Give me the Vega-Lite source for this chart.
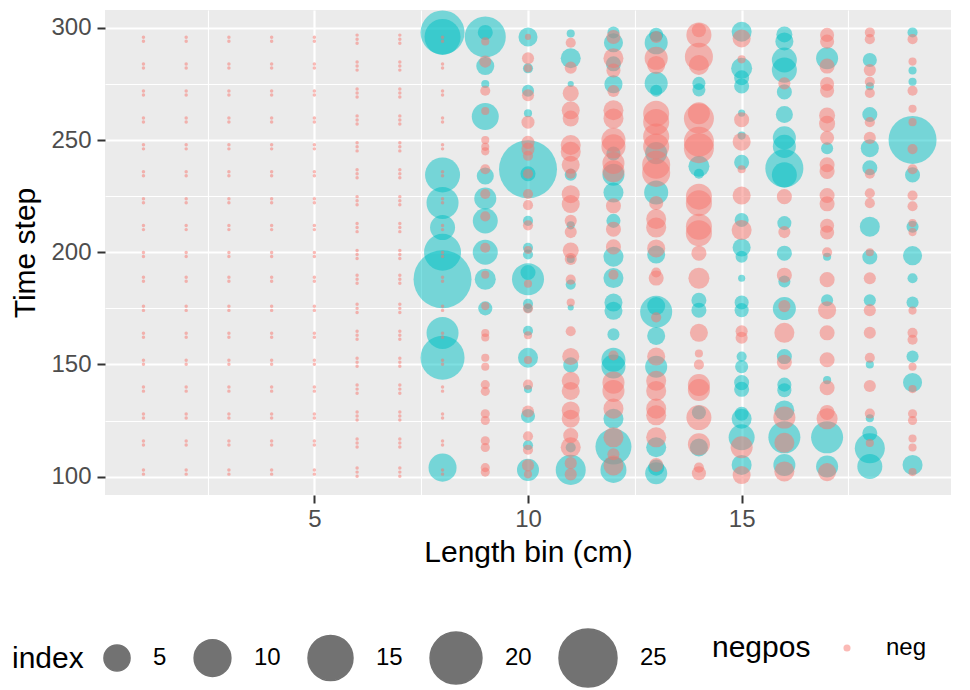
{
"$schema": "https://vega.github.io/schema/vega-lite/v6.json",
"width": 846, "height": 485,
"autosize": {"type": "none"},
"padding": {"left": 105, "top": 10, "right": 19, "bottom": 195},
"background": "white",
"config": {"view": {"fill": "#EBEBEB", "stroke": null}, "font": "Liberation Sans"},
"data": {"values": [
{"x":1,"t":101.1,"i":0,"g":"neg"},{"x":1,"t":102.9,"i":0,"g":"neg"},{"x":1,"t":114.1,"i":0,"g":"neg"},{"x":1,"t":115.9,"i":0,"g":"neg"},{"x":1,"t":126.1,"i":0,"g":"neg"},{"x":1,"t":127.9,"i":0,"g":"neg"},{"x":1,"t":138.1,"i":0,"g":"neg"},{"x":1,"t":139.9,"i":0,"g":"neg"},{"x":1,"t":150.1,"i":0,"g":"neg"},{"x":1,"t":151.9,"i":0,"g":"neg"},{"x":1,"t":162.1,"i":0,"g":"neg"},{"x":1,"t":163.9,"i":0,"g":"neg"},{"x":1,"t":174.1,"i":0,"g":"neg"},{"x":1,"t":175.9,"i":0,"g":"neg"},{"x":1,"t":187.1,"i":0,"g":"neg"},{"x":1,"t":188.9,"i":0,"g":"neg"},{"x":1,"t":198.1,"i":0,"g":"neg"},{"x":1,"t":199.9,"i":0,"g":"neg"},{"x":1,"t":210.1,"i":0,"g":"neg"},{"x":1,"t":211.9,"i":0,"g":"neg"},{"x":1,"t":222.1,"i":0,"g":"neg"},{"x":1,"t":223.9,"i":0,"g":"neg"},{"x":1,"t":234.1,"i":0,"g":"neg"},{"x":1,"t":235.9,"i":0,"g":"neg"},{"x":1,"t":246.1,"i":0,"g":"neg"},{"x":1,"t":247.9,"i":0,"g":"neg"},{"x":1,"t":258.1,"i":0,"g":"neg"},{"x":1,"t":259.9,"i":0,"g":"neg"},{"x":1,"t":270.1,"i":0,"g":"neg"},{"x":1,"t":271.9,"i":0,"g":"neg"},{"x":1,"t":282.1,"i":0,"g":"neg"},{"x":1,"t":283.9,"i":0,"g":"neg"},{"x":1,"t":294.1,"i":0,"g":"neg"},{"x":1,"t":295.9,"i":0,"g":"neg"},
{"x":2,"t":101.1,"i":0,"g":"neg"},{"x":2,"t":102.9,"i":0,"g":"neg"},{"x":2,"t":114.1,"i":0,"g":"neg"},{"x":2,"t":115.9,"i":0,"g":"neg"},{"x":2,"t":126.1,"i":0,"g":"neg"},{"x":2,"t":127.9,"i":0,"g":"neg"},{"x":2,"t":138.1,"i":0,"g":"neg"},{"x":2,"t":139.9,"i":0,"g":"neg"},{"x":2,"t":150.1,"i":0,"g":"neg"},{"x":2,"t":151.9,"i":0,"g":"neg"},{"x":2,"t":162.1,"i":0,"g":"neg"},{"x":2,"t":163.9,"i":0,"g":"neg"},{"x":2,"t":174.1,"i":0,"g":"neg"},{"x":2,"t":175.9,"i":0,"g":"neg"},{"x":2,"t":187.1,"i":0,"g":"neg"},{"x":2,"t":188.9,"i":0,"g":"neg"},{"x":2,"t":198.1,"i":0,"g":"neg"},{"x":2,"t":199.9,"i":0,"g":"neg"},{"x":2,"t":210.1,"i":0,"g":"neg"},{"x":2,"t":211.9,"i":0,"g":"neg"},{"x":2,"t":222.1,"i":0,"g":"neg"},{"x":2,"t":223.9,"i":0,"g":"neg"},{"x":2,"t":234.1,"i":0,"g":"neg"},{"x":2,"t":235.9,"i":0,"g":"neg"},{"x":2,"t":246.1,"i":0,"g":"neg"},{"x":2,"t":247.9,"i":0,"g":"neg"},{"x":2,"t":258.1,"i":0,"g":"neg"},{"x":2,"t":259.9,"i":0,"g":"neg"},{"x":2,"t":270.1,"i":0,"g":"neg"},{"x":2,"t":271.9,"i":0,"g":"neg"},{"x":2,"t":282.1,"i":0,"g":"neg"},{"x":2,"t":283.9,"i":0,"g":"neg"},{"x":2,"t":294.1,"i":0,"g":"neg"},{"x":2,"t":295.9,"i":0,"g":"neg"},
{"x":3,"t":101.1,"i":0,"g":"neg"},{"x":3,"t":102.9,"i":0,"g":"neg"},{"x":3,"t":114.1,"i":0,"g":"neg"},{"x":3,"t":115.9,"i":0,"g":"neg"},{"x":3,"t":126.1,"i":0,"g":"neg"},{"x":3,"t":127.9,"i":0,"g":"neg"},{"x":3,"t":138.1,"i":0,"g":"neg"},{"x":3,"t":139.9,"i":0,"g":"neg"},{"x":3,"t":150.1,"i":0,"g":"neg"},{"x":3,"t":151.9,"i":0,"g":"neg"},{"x":3,"t":162.1,"i":0,"g":"neg"},{"x":3,"t":163.9,"i":0,"g":"neg"},{"x":3,"t":174.1,"i":0,"g":"neg"},{"x":3,"t":175.9,"i":0,"g":"neg"},{"x":3,"t":187.1,"i":0,"g":"neg"},{"x":3,"t":188.9,"i":0,"g":"neg"},{"x":3,"t":198.1,"i":0,"g":"neg"},{"x":3,"t":199.9,"i":0,"g":"neg"},{"x":3,"t":210.1,"i":0,"g":"neg"},{"x":3,"t":211.9,"i":0,"g":"neg"},{"x":3,"t":222.1,"i":0,"g":"neg"},{"x":3,"t":223.9,"i":0,"g":"neg"},{"x":3,"t":234.1,"i":0,"g":"neg"},{"x":3,"t":235.9,"i":0,"g":"neg"},{"x":3,"t":246.1,"i":0,"g":"neg"},{"x":3,"t":247.9,"i":0,"g":"neg"},{"x":3,"t":258.1,"i":0,"g":"neg"},{"x":3,"t":259.9,"i":0,"g":"neg"},{"x":3,"t":270.1,"i":0,"g":"neg"},{"x":3,"t":271.9,"i":0,"g":"neg"},{"x":3,"t":282.1,"i":0,"g":"neg"},{"x":3,"t":283.9,"i":0,"g":"neg"},{"x":3,"t":294.1,"i":0,"g":"neg"},{"x":3,"t":295.9,"i":0,"g":"neg"},
{"x":4,"t":101.1,"i":0,"g":"neg"},{"x":4,"t":102.9,"i":0,"g":"neg"},{"x":4,"t":114.1,"i":0,"g":"neg"},{"x":4,"t":115.9,"i":0,"g":"neg"},{"x":4,"t":126.1,"i":0,"g":"neg"},{"x":4,"t":127.9,"i":0,"g":"neg"},{"x":4,"t":138.1,"i":0,"g":"neg"},{"x":4,"t":139.9,"i":0,"g":"neg"},{"x":4,"t":150.1,"i":0,"g":"neg"},{"x":4,"t":151.9,"i":0,"g":"neg"},{"x":4,"t":162.1,"i":0,"g":"neg"},{"x":4,"t":163.9,"i":0,"g":"neg"},{"x":4,"t":174.1,"i":0,"g":"neg"},{"x":4,"t":175.9,"i":0,"g":"neg"},{"x":4,"t":187.1,"i":0,"g":"neg"},{"x":4,"t":188.9,"i":0,"g":"neg"},{"x":4,"t":198.1,"i":0,"g":"neg"},{"x":4,"t":199.9,"i":0,"g":"neg"},{"x":4,"t":210.1,"i":0,"g":"neg"},{"x":4,"t":211.9,"i":0,"g":"neg"},{"x":4,"t":222.1,"i":0,"g":"neg"},{"x":4,"t":223.9,"i":0,"g":"neg"},{"x":4,"t":234.1,"i":0,"g":"neg"},{"x":4,"t":235.9,"i":0,"g":"neg"},{"x":4,"t":246.1,"i":0,"g":"neg"},{"x":4,"t":247.9,"i":0,"g":"neg"},{"x":4,"t":258.1,"i":0,"g":"neg"},{"x":4,"t":259.9,"i":0,"g":"neg"},{"x":4,"t":270.1,"i":0,"g":"neg"},{"x":4,"t":271.9,"i":0,"g":"neg"},{"x":4,"t":282.1,"i":0,"g":"neg"},{"x":4,"t":283.9,"i":0,"g":"neg"},{"x":4,"t":294.1,"i":0,"g":"neg"},{"x":4,"t":295.9,"i":0,"g":"neg"},
{"x":5,"t":101.1,"i":0,"g":"neg"},{"x":5,"t":102.9,"i":0,"g":"neg"},{"x":5,"t":114.1,"i":0,"g":"neg"},{"x":5,"t":115.9,"i":0,"g":"neg"},{"x":5,"t":126.1,"i":0,"g":"neg"},{"x":5,"t":127.9,"i":0,"g":"neg"},{"x":5,"t":138.1,"i":0,"g":"neg"},{"x":5,"t":139.9,"i":0,"g":"neg"},{"x":5,"t":150.1,"i":0,"g":"neg"},{"x":5,"t":151.9,"i":0,"g":"neg"},{"x":5,"t":162.1,"i":0,"g":"neg"},{"x":5,"t":163.9,"i":0,"g":"neg"},{"x":5,"t":174.1,"i":0,"g":"neg"},{"x":5,"t":175.9,"i":0,"g":"neg"},{"x":5,"t":187.1,"i":0,"g":"neg"},{"x":5,"t":188.9,"i":0,"g":"neg"},{"x":5,"t":198.1,"i":0,"g":"neg"},{"x":5,"t":199.9,"i":0,"g":"neg"},{"x":5,"t":210.1,"i":0,"g":"neg"},{"x":5,"t":211.9,"i":0,"g":"neg"},{"x":5,"t":222.1,"i":0,"g":"neg"},{"x":5,"t":223.9,"i":0,"g":"neg"},{"x":5,"t":234.1,"i":0,"g":"neg"},{"x":5,"t":235.9,"i":0,"g":"neg"},{"x":5,"t":246.1,"i":0,"g":"neg"},{"x":5,"t":247.9,"i":0,"g":"neg"},{"x":5,"t":258.1,"i":0,"g":"neg"},{"x":5,"t":259.9,"i":0,"g":"neg"},{"x":5,"t":270.1,"i":0,"g":"neg"},{"x":5,"t":271.9,"i":0,"g":"neg"},{"x":5,"t":282.1,"i":0,"g":"neg"},{"x":5,"t":283.9,"i":0,"g":"neg"},{"x":5,"t":294.1,"i":0,"g":"neg"},{"x":5,"t":295.9,"i":0,"g":"neg"},
{"x":6,"t":100.2,"i":0,"g":"neg"},{"x":6,"t":102,"i":0,"g":"neg"},{"x":6,"t":103.8,"i":0,"g":"neg"},{"x":6,"t":113.2,"i":0,"g":"neg"},{"x":6,"t":115,"i":0,"g":"neg"},{"x":6,"t":116.8,"i":0,"g":"neg"},{"x":6,"t":125.2,"i":0,"g":"neg"},{"x":6,"t":127,"i":0,"g":"neg"},{"x":6,"t":128.8,"i":0,"g":"neg"},{"x":6,"t":137.2,"i":0,"g":"neg"},{"x":6,"t":139,"i":0,"g":"neg"},{"x":6,"t":140.8,"i":0,"g":"neg"},{"x":6,"t":149.2,"i":0,"g":"neg"},{"x":6,"t":151,"i":0,"g":"neg"},{"x":6,"t":152.8,"i":0,"g":"neg"},{"x":6,"t":161.2,"i":0,"g":"neg"},{"x":6,"t":163,"i":0,"g":"neg"},{"x":6,"t":164.8,"i":0,"g":"neg"},{"x":6,"t":173.2,"i":0,"g":"neg"},{"x":6,"t":175,"i":0,"g":"neg"},{"x":6,"t":176.8,"i":0,"g":"neg"},{"x":6,"t":186.2,"i":0,"g":"neg"},{"x":6,"t":188,"i":0,"g":"neg"},{"x":6,"t":189.8,"i":0,"g":"neg"},{"x":6,"t":197.2,"i":0,"g":"neg"},{"x":6,"t":199,"i":0,"g":"neg"},{"x":6,"t":200.8,"i":0,"g":"neg"},{"x":6,"t":209.2,"i":0,"g":"neg"},{"x":6,"t":211,"i":0,"g":"neg"},{"x":6,"t":212.8,"i":0,"g":"neg"},{"x":6,"t":221.2,"i":0,"g":"neg"},{"x":6,"t":223,"i":0,"g":"neg"},{"x":6,"t":224.8,"i":0,"g":"neg"},{"x":6,"t":233.2,"i":0,"g":"neg"},{"x":6,"t":235,"i":0,"g":"neg"},{"x":6,"t":236.8,"i":0,"g":"neg"},{"x":6,"t":245.2,"i":0,"g":"neg"},{"x":6,"t":247,"i":0,"g":"neg"},{"x":6,"t":248.8,"i":0,"g":"neg"},{"x":6,"t":257.2,"i":0,"g":"neg"},{"x":6,"t":259,"i":0,"g":"neg"},{"x":6,"t":260.8,"i":0,"g":"neg"},{"x":6,"t":269.2,"i":0,"g":"neg"},{"x":6,"t":271,"i":0,"g":"neg"},{"x":6,"t":272.8,"i":0,"g":"neg"},{"x":6,"t":281.2,"i":0,"g":"neg"},{"x":6,"t":283,"i":0,"g":"neg"},{"x":6,"t":284.8,"i":0,"g":"neg"},{"x":6,"t":293.2,"i":0,"g":"neg"},{"x":6,"t":295,"i":0,"g":"neg"},{"x":6,"t":296.8,"i":0,"g":"neg"},
{"x":7,"t":100.2,"i":0,"g":"neg"},{"x":7,"t":102,"i":0,"g":"neg"},{"x":7,"t":103.8,"i":0,"g":"neg"},{"x":7,"t":113.2,"i":0,"g":"neg"},{"x":7,"t":115,"i":0,"g":"neg"},{"x":7,"t":116.8,"i":0,"g":"neg"},{"x":7,"t":125.2,"i":0,"g":"neg"},{"x":7,"t":127,"i":0,"g":"neg"},{"x":7,"t":128.8,"i":0,"g":"neg"},{"x":7,"t":137.2,"i":0,"g":"neg"},{"x":7,"t":139,"i":0,"g":"neg"},{"x":7,"t":140.8,"i":0,"g":"neg"},{"x":7,"t":149.2,"i":0,"g":"neg"},{"x":7,"t":151,"i":0,"g":"neg"},{"x":7,"t":152.8,"i":0,"g":"neg"},{"x":7,"t":161.2,"i":0,"g":"neg"},{"x":7,"t":163,"i":0,"g":"neg"},{"x":7,"t":164.8,"i":0,"g":"neg"},{"x":7,"t":173.2,"i":0,"g":"neg"},{"x":7,"t":175,"i":0,"g":"neg"},{"x":7,"t":176.8,"i":0,"g":"neg"},{"x":7,"t":186.2,"i":0,"g":"neg"},{"x":7,"t":188,"i":0,"g":"neg"},{"x":7,"t":189.8,"i":0,"g":"neg"},{"x":7,"t":197.2,"i":0,"g":"neg"},{"x":7,"t":199,"i":0,"g":"neg"},{"x":7,"t":200.8,"i":0,"g":"neg"},{"x":7,"t":209.2,"i":0,"g":"neg"},{"x":7,"t":211,"i":0,"g":"neg"},{"x":7,"t":212.8,"i":0,"g":"neg"},{"x":7,"t":221.2,"i":0,"g":"neg"},{"x":7,"t":223,"i":0,"g":"neg"},{"x":7,"t":224.8,"i":0,"g":"neg"},{"x":7,"t":233.2,"i":0,"g":"neg"},{"x":7,"t":235,"i":0,"g":"neg"},{"x":7,"t":236.8,"i":0,"g":"neg"},{"x":7,"t":245.2,"i":0,"g":"neg"},{"x":7,"t":247,"i":0,"g":"neg"},{"x":7,"t":248.8,"i":0,"g":"neg"},{"x":7,"t":257.2,"i":0,"g":"neg"},{"x":7,"t":259,"i":0,"g":"neg"},{"x":7,"t":260.8,"i":0,"g":"neg"},{"x":7,"t":269.2,"i":0,"g":"neg"},{"x":7,"t":271,"i":0,"g":"neg"},{"x":7,"t":272.8,"i":0,"g":"neg"},{"x":7,"t":281.2,"i":0,"g":"neg"},{"x":7,"t":283,"i":0,"g":"neg"},{"x":7,"t":284.8,"i":0,"g":"neg"},{"x":7,"t":293.2,"i":0,"g":"neg"},{"x":7,"t":295,"i":0,"g":"neg"},{"x":7,"t":296.8,"i":0,"g":"neg"},
{"x":8,"t":298,"i":14.35,"g":"pos"},{"x":8,"t":296,"i":9.58,"g":"pos"},{"x":8,"t":234.5,"i":9.05,"g":"pos"},{"x":8,"t":222,"i":7.56,"g":"pos"},{"x":8,"t":211,"i":4.58,"g":"pos"},{"x":8,"t":200,"i":10.1,"g":"pos"},{"x":8,"t":188,"i":25,"g":"pos"},{"x":8,"t":164,"i":7.56,"g":"pos"},{"x":8,"t":153,"i":14.35,"g":"pos"},{"x":8,"t":104,"i":5.77,"g":"pos"},
{"x":8,"t":101.1,"i":0,"g":"neg"},{"x":8,"t":102.9,"i":0,"g":"neg"},{"x":8,"t":114.1,"i":0,"g":"neg"},{"x":8,"t":115.9,"i":0,"g":"neg"},{"x":8,"t":126.1,"i":0,"g":"neg"},{"x":8,"t":127.9,"i":0,"g":"neg"},{"x":8,"t":138.1,"i":0,"g":"neg"},{"x":8,"t":139.9,"i":0,"g":"neg"},{"x":8,"t":150.1,"i":0,"g":"neg"},{"x":8,"t":151.9,"i":0,"g":"neg"},{"x":8,"t":162.1,"i":0,"g":"neg"},{"x":8,"t":163.9,"i":0,"g":"neg"},{"x":8,"t":174.1,"i":0,"g":"neg"},{"x":8,"t":175.9,"i":0,"g":"neg"},{"x":8,"t":187.1,"i":0,"g":"neg"},{"x":8,"t":188.9,"i":0,"g":"neg"},{"x":8,"t":198.1,"i":0,"g":"neg"},{"x":8,"t":199.9,"i":0,"g":"neg"},{"x":8,"t":210.1,"i":0,"g":"neg"},{"x":8,"t":211.9,"i":0,"g":"neg"},{"x":8,"t":222.1,"i":0,"g":"neg"},{"x":8,"t":223.9,"i":0,"g":"neg"},{"x":8,"t":234.1,"i":0,"g":"neg"},{"x":8,"t":235.9,"i":0,"g":"neg"},{"x":8,"t":246.1,"i":0,"g":"neg"},{"x":8,"t":247.9,"i":0,"g":"neg"},{"x":8,"t":258.1,"i":0,"g":"neg"},{"x":8,"t":259.9,"i":0,"g":"neg"},{"x":8,"t":270.1,"i":0,"g":"neg"},{"x":8,"t":271.9,"i":0,"g":"neg"},{"x":8,"t":282.1,"i":0,"g":"neg"},{"x":8,"t":283.9,"i":0,"g":"neg"},{"x":8,"t":294.1,"i":0,"g":"neg"},{"x":8,"t":295.9,"i":0,"g":"neg"},
{"x":9,"t":296,"i":12.45,"g":"pos"},{"x":9,"t":298,"i":1.6,"g":"pos"},{"x":9,"t":283,"i":2.34,"g":"pos"},{"x":9,"t":275,"i":0.4,"g":"pos"},{"x":9,"t":260.5,"i":5.36,"g":"pos"},{"x":9,"t":234,"i":2.08,"g":"pos"},{"x":9,"t":224,"i":3.53,"g":"pos"},{"x":9,"t":214,"i":4.58,"g":"pos"},{"x":9,"t":200,"i":4.58,"g":"pos"},{"x":9,"t":188,"i":3.21,"g":"pos"},{"x":9,"t":175,"i":1.39,"g":"pos"},
{"x":9,"t":294,"i":0.4,"g":"neg"},{"x":9,"t":285,"i":1.0,"g":"neg"},{"x":9,"t":272,"i":0.67,"g":"neg"},{"x":9,"t":263,"i":0.4,"g":"neg"},{"x":9,"t":250,"i":0.4,"g":"neg"},{"x":9,"t":247,"i":0.4,"g":"neg"},{"x":9,"t":245,"i":0.4,"g":"neg"},{"x":9,"t":237,"i":0.67,"g":"neg"},{"x":9,"t":226,"i":0.67,"g":"neg"},{"x":9,"t":216,"i":0.67,"g":"neg"},{"x":9,"t":202,"i":0.67,"g":"neg"},{"x":9,"t":190,"i":0.4,"g":"neg"},{"x":9,"t":176,"i":0.4,"g":"neg"},{"x":9,"t":164,"i":0.4,"g":"neg"},{"x":9,"t":162,"i":0.4,"g":"neg"},{"x":9,"t":153,"i":0.4,"g":"neg"},{"x":9,"t":149,"i":0.4,"g":"neg"},{"x":9,"t":141,"i":0.53,"g":"neg"},{"x":9,"t":138,"i":0.53,"g":"neg"},{"x":9,"t":128,"i":0.53,"g":"neg"},{"x":9,"t":125,"i":0.53,"g":"neg"},{"x":9,"t":116,"i":0.53,"g":"neg"},{"x":9,"t":113,"i":0.53,"g":"neg"},{"x":9,"t":104,"i":0.53,"g":"neg"},{"x":9,"t":102,"i":0.53,"g":"neg"},
{"x":10,"t":296,"i":2.62,"g":"pos"},{"x":10,"t":282,"i":0.67,"g":"pos"},{"x":10,"t":272,"i":1.0,"g":"pos"},{"x":10,"t":262,"i":0.4,"g":"pos"},{"x":10,"t":237,"i":25,"g":"pos"},{"x":10,"t":235,"i":1.6,"g":"pos"},{"x":10,"t":214,"i":0.67,"g":"pos"},{"x":10,"t":202,"i":0.67,"g":"pos"},{"x":10,"t":199,"i":0.67,"g":"pos"},{"x":10,"t":188,"i":7.56,"g":"pos"},{"x":10,"t":191,"i":1.6,"g":"pos"},{"x":10,"t":177,"i":0.67,"g":"pos"},{"x":10,"t":175,"i":0.53,"g":"pos"},{"x":10,"t":165,"i":0.67,"g":"pos"},{"x":10,"t":153,"i":2.9,"g":"pos"},{"x":10,"t":139,"i":0.4,"g":"pos"},{"x":10,"t":127,"i":1.39,"g":"pos"},{"x":10,"t":114,"i":0.67,"g":"pos"},{"x":10,"t":103,"i":3.53,"g":"pos"},
{"x":10,"t":296,"i":0.19,"g":"neg"},{"x":10,"t":286.5,"i":1.0,"g":"neg"},{"x":10,"t":282,"i":0.4,"g":"neg"},{"x":10,"t":270,"i":1.0,"g":"neg"},{"x":10,"t":258,"i":1.18,"g":"neg"},{"x":10,"t":249,"i":1.18,"g":"neg"},{"x":10,"t":246,"i":1.18,"g":"neg"},{"x":10,"t":243,"i":0.67,"g":"neg"},{"x":10,"t":235,"i":0.67,"g":"neg"},{"x":10,"t":226,"i":0.67,"g":"neg"},{"x":10,"t":221,"i":0.67,"g":"neg"},{"x":10,"t":212,"i":0.67,"g":"neg"},{"x":10,"t":201,"i":0.4,"g":"neg"},{"x":10,"t":186,"i":0.4,"g":"neg"},{"x":10,"t":175,"i":0.67,"g":"neg"},{"x":10,"t":163,"i":0.4,"g":"neg"},{"x":10,"t":152,"i":0.4,"g":"neg"},{"x":10,"t":141,"i":0.67,"g":"neg"},{"x":10,"t":129,"i":1.0,"g":"neg"},{"x":10,"t":118,"i":0.67,"g":"neg"},{"x":10,"t":112,"i":0.67,"g":"neg"},{"x":10,"t":105,"i":1.0,"g":"neg"},{"x":10,"t":101,"i":0.4,"g":"neg"},
{"x":11,"t":297.5,"i":0.4,"g":"pos"},{"x":11,"t":286.5,"i":2.9,"g":"pos"},{"x":11,"t":275,"i":0.19,"g":"pos"},{"x":11,"t":234.6,"i":1.0,"g":"pos"},{"x":11,"t":212,"i":0.4,"g":"pos"},{"x":11,"t":197,"i":0.4,"g":"pos"},{"x":11,"t":185.6,"i":0.67,"g":"pos"},{"x":11,"t":175.4,"i":0.19,"g":"pos"},{"x":11,"t":149.8,"i":1.6,"g":"pos"},{"x":11,"t":113,"i":0.67,"g":"pos"},{"x":11,"t":103,"i":6.63,"g":"pos"},
{"x":11,"t":293.4,"i":0.67,"g":"neg"},{"x":11,"t":282.3,"i":1.0,"g":"neg"},{"x":11,"t":270.9,"i":1.83,"g":"neg"},{"x":11,"t":263.3,"i":2.34,"g":"neg"},{"x":11,"t":259.6,"i":1.83,"g":"neg"},{"x":11,"t":247.8,"i":2.9,"g":"neg"},{"x":11,"t":244.8,"i":2.9,"g":"neg"},{"x":11,"t":239,"i":2.34,"g":"neg"},{"x":11,"t":235,"i":0.67,"g":"neg"},{"x":11,"t":225.9,"i":2.34,"g":"neg"},{"x":11,"t":221.5,"i":2.34,"g":"neg"},{"x":11,"t":214,"i":1.0,"g":"neg"},{"x":11,"t":209,"i":1.0,"g":"neg"},{"x":11,"t":200.8,"i":1.83,"g":"neg"},{"x":11,"t":197,"i":1.0,"g":"neg"},{"x":11,"t":187.8,"i":0.67,"g":"neg"},{"x":11,"t":177.6,"i":0.4,"g":"neg"},{"x":11,"t":164.8,"i":0.67,"g":"neg"},{"x":11,"t":153.5,"i":2.08,"g":"neg"},{"x":11,"t":142.7,"i":2.34,"g":"neg"},{"x":11,"t":138.2,"i":2.34,"g":"neg"},{"x":11,"t":129.5,"i":2.34,"g":"neg"},{"x":11,"t":125.8,"i":2.34,"g":"neg"},{"x":11,"t":118.3,"i":1.6,"g":"neg"},{"x":11,"t":113.1,"i":2.9,"g":"neg"},{"x":11,"t":106,"i":1.0,"g":"neg"},{"x":11,"t":101,"i":1.0,"g":"neg"},
{"x":12,"t":298,"i":1.0,"g":"pos"},{"x":12,"t":293.4,"i":2.62,"g":"pos"},{"x":12,"t":284,"i":1.6,"g":"pos"},{"x":12,"t":274.9,"i":2.34,"g":"pos"},{"x":12,"t":244,"i":1.39,"g":"pos"},{"x":12,"t":234.6,"i":3.53,"g":"pos"},{"x":12,"t":226.6,"i":2.9,"g":"pos"},{"x":12,"t":214,"i":1.39,"g":"pos"},{"x":12,"t":198,"i":2.9,"g":"pos"},{"x":12,"t":188.5,"i":2.9,"g":"pos"},{"x":12,"t":177.6,"i":2.34,"g":"pos"},{"x":12,"t":173.9,"i":2.34,"g":"pos"},{"x":12,"t":163.4,"i":1.0,"g":"pos"},{"x":12,"t":152.1,"i":4.22,"g":"pos"},{"x":12,"t":149.1,"i":4.22,"g":"pos"},{"x":12,"t":125.8,"i":2.9,"g":"pos"},{"x":12,"t":113.4,"i":9.58,"g":"pos"},{"x":12,"t":103,"i":4.96,"g":"pos"},
{"x":12,"t":296,"i":1.39,"g":"neg"},{"x":12,"t":286.5,"i":2.9,"g":"neg"},{"x":12,"t":281,"i":1.39,"g":"neg"},{"x":12,"t":271.9,"i":1.0,"g":"neg"},{"x":12,"t":263.3,"i":2.9,"g":"neg"},{"x":12,"t":259.6,"i":2.9,"g":"neg"},{"x":12,"t":250.1,"i":4.22,"g":"neg"},{"x":12,"t":247.2,"i":4.22,"g":"neg"},{"x":12,"t":239.8,"i":3.53,"g":"neg"},{"x":12,"t":236.1,"i":3.53,"g":"neg"},{"x":12,"t":220.7,"i":1.6,"g":"neg"},{"x":12,"t":210.3,"i":1.6,"g":"neg"},{"x":12,"t":202.4,"i":1.6,"g":"neg"},{"x":12,"t":190,"i":0.67,"g":"neg"},{"x":12,"t":154,"i":0.67,"g":"neg"},{"x":12,"t":141.9,"i":3.53,"g":"neg"},{"x":12,"t":138.2,"i":3.53,"g":"neg"},{"x":12,"t":130.3,"i":2.9,"g":"neg"},{"x":12,"t":117.5,"i":2.9,"g":"neg"},{"x":12,"t":110,"i":1.0,"g":"neg"},{"x":12,"t":105,"i":2.9,"g":"neg"},
{"x":13,"t":297,"i":1.39,"g":"pos"},{"x":13,"t":293.4,"i":3.87,"g":"pos"},{"x":13,"t":275.3,"i":3.87,"g":"pos"},{"x":13,"t":272,"i":1.0,"g":"pos"},{"x":13,"t":244.2,"i":3.53,"g":"pos"},{"x":13,"t":226.6,"i":4.22,"g":"pos"},{"x":13,"t":199,"i":2.34,"g":"pos"},{"x":13,"t":176,"i":2.34,"g":"pos"},{"x":13,"t":173.5,"i":7.56,"g":"pos"},{"x":13,"t":162.7,"i":2.34,"g":"pos"},{"x":13,"t":149,"i":3.53,"g":"pos"},{"x":13,"t":113.1,"i":2.9,"g":"pos"},{"x":13,"t":104,"i":1.83,"g":"pos"},{"x":13,"t":101.5,"i":3.53,"g":"pos"},
{"x":13,"t":296,"i":1.0,"g":"neg"},{"x":13,"t":286.5,"i":3.87,"g":"neg"},{"x":13,"t":283.5,"i":2.34,"g":"neg"},{"x":13,"t":261.8,"i":4.96,"g":"neg"},{"x":13,"t":258.1,"i":4.96,"g":"neg"},{"x":13,"t":251.6,"i":4.96,"g":"neg"},{"x":13,"t":247.2,"i":4.96,"g":"neg"},{"x":13,"t":239,"i":5.77,"g":"neg"},{"x":13,"t":235.4,"i":5.77,"g":"neg"},{"x":13,"t":222,"i":1.39,"g":"neg"},{"x":13,"t":214.8,"i":2.9,"g":"neg"},{"x":13,"t":211,"i":2.9,"g":"neg"},{"x":13,"t":201.7,"i":2.34,"g":"neg"},{"x":13,"t":191,"i":0.67,"g":"neg"},{"x":13,"t":188.5,"i":1.6,"g":"neg"},{"x":13,"t":171,"i":0.67,"g":"neg"},{"x":13,"t":153.5,"i":2.34,"g":"neg"},{"x":13,"t":142.7,"i":2.9,"g":"neg"},{"x":13,"t":138.2,"i":2.9,"g":"neg"},{"x":13,"t":130.3,"i":2.9,"g":"neg"},{"x":13,"t":127.3,"i":2.9,"g":"neg"},{"x":13,"t":117.5,"i":2.9,"g":"neg"},{"x":13,"t":105.2,"i":1.39,"g":"neg"},
{"x":14,"t":275.3,"i":1.18,"g":"pos"},{"x":14,"t":272.4,"i":1.18,"g":"pos"},{"x":14,"t":238.3,"i":3.21,"g":"pos"},{"x":14,"t":235,"i":0.67,"g":"pos"},{"x":14,"t":178.6,"i":1.6,"g":"pos"},{"x":14,"t":174.2,"i":1.6,"g":"pos"},{"x":14,"t":128.6,"i":1.39,"g":"pos"},{"x":14,"t":113,"i":2.34,"g":"pos"},
{"x":14,"t":299,"i":1.39,"g":"neg"},{"x":14,"t":296.9,"i":4.58,"g":"neg"},{"x":14,"t":287.2,"i":5.77,"g":"neg"},{"x":14,"t":283.5,"i":2.9,"g":"neg"},{"x":14,"t":262,"i":3.53,"g":"neg"},{"x":14,"t":259.6,"i":6.63,"g":"neg"},{"x":14,"t":249.3,"i":6.63,"g":"neg"},{"x":14,"t":246.4,"i":6.63,"g":"neg"},{"x":14,"t":224.8,"i":4.96,"g":"neg"},{"x":14,"t":221.9,"i":4.96,"g":"neg"},{"x":14,"t":211.4,"i":4.96,"g":"neg"},{"x":14,"t":208.5,"i":4.96,"g":"neg"},{"x":14,"t":199.6,"i":1.6,"g":"neg"},{"x":14,"t":188.4,"i":3.21,"g":"neg"},{"x":14,"t":164.1,"i":2.34,"g":"neg"},{"x":14,"t":154.9,"i":0.4,"g":"neg"},{"x":14,"t":149.9,"i":0.67,"g":"neg"},{"x":14,"t":140.8,"i":3.53,"g":"neg"},{"x":14,"t":138.6,"i":3.53,"g":"neg"},{"x":14,"t":126.3,"i":4.58,"g":"neg"},{"x":14,"t":114.4,"i":3.53,"g":"neg"},{"x":14,"t":104,"i":0.67,"g":"neg"},{"x":14,"t":101.5,"i":1.39,"g":"neg"},
{"x":15,"t":298.3,"i":2.9,"g":"pos"},{"x":15,"t":282,"i":3.21,"g":"pos"},{"x":15,"t":277.8,"i":1.6,"g":"pos"},{"x":15,"t":274.1,"i":1.6,"g":"pos"},{"x":15,"t":262,"i":0.29,"g":"pos"},{"x":15,"t":252,"i":0.4,"g":"pos"},{"x":15,"t":240.1,"i":1.6,"g":"pos"},{"x":15,"t":214.4,"i":1.39,"g":"pos"},{"x":15,"t":202.1,"i":2.34,"g":"pos"},{"x":15,"t":198,"i":1.0,"g":"pos"},{"x":15,"t":188.4,"i":0.29,"g":"pos"},{"x":15,"t":177.6,"i":1.39,"g":"pos"},{"x":15,"t":174.2,"i":1.39,"g":"pos"},{"x":15,"t":153.5,"i":0.67,"g":"pos"},{"x":15,"t":149,"i":1.18,"g":"pos"},{"x":15,"t":141.9,"i":1.6,"g":"pos"},{"x":15,"t":138.9,"i":1.6,"g":"pos"},{"x":15,"t":128,"i":1.39,"g":"pos"},{"x":15,"t":125.8,"i":2.9,"g":"pos"},{"x":15,"t":117.5,"i":4.96,"g":"pos"},{"x":15,"t":105.2,"i":2.9,"g":"pos"},
{"x":15,"t":295.3,"i":2.34,"g":"neg"},{"x":15,"t":286,"i":0.4,"g":"neg"},{"x":15,"t":259.1,"i":1.6,"g":"neg"},{"x":15,"t":249.3,"i":2.34,"g":"neg"},{"x":15,"t":237,"i":0.4,"g":"neg"},{"x":15,"t":225.3,"i":2.34,"g":"neg"},{"x":15,"t":209.9,"i":2.9,"g":"neg"},{"x":15,"t":164.8,"i":1.0,"g":"neg"},{"x":15,"t":161.9,"i":1.0,"g":"neg"},{"x":15,"t":113.1,"i":3.53,"g":"neg"},{"x":15,"t":100.7,"i":2.34,"g":"neg"},
{"x":16,"t":297.1,"i":1.83,"g":"pos"},{"x":16,"t":294,"i":2.34,"g":"pos"},{"x":16,"t":285.7,"i":4.58,"g":"pos"},{"x":16,"t":281.2,"i":4.58,"g":"pos"},{"x":16,"t":271.5,"i":1.6,"g":"pos"},{"x":16,"t":261.4,"i":2.08,"g":"pos"},{"x":16,"t":251,"i":3.87,"g":"pos"},{"x":16,"t":247.2,"i":3.87,"g":"pos"},{"x":16,"t":237.4,"i":10.7,"g":"pos"},{"x":16,"t":234.5,"i":4.58,"g":"pos"},{"x":16,"t":213,"i":1.39,"g":"pos"},{"x":16,"t":199.6,"i":1.6,"g":"pos"},{"x":16,"t":187,"i":1.0,"g":"pos"},{"x":16,"t":174.9,"i":3.87,"g":"pos"},{"x":16,"t":153.5,"i":1.6,"g":"pos"},{"x":16,"t":141,"i":1.39,"g":"pos"},{"x":16,"t":138.5,"i":1.39,"g":"pos"},{"x":16,"t":129.5,"i":2.9,"g":"pos"},{"x":16,"t":117.5,"i":7.56,"g":"pos"},{"x":16,"t":105.2,"i":3.53,"g":"pos"},
{"x":16,"t":275.3,"i":1.0,"g":"neg"},{"x":16,"t":224.8,"i":1.6,"g":"neg"},{"x":16,"t":209,"i":1.0,"g":"neg"},{"x":16,"t":189.8,"i":1.6,"g":"neg"},{"x":16,"t":176,"i":1.0,"g":"neg"},{"x":16,"t":164.1,"i":2.9,"g":"neg"},{"x":16,"t":151,"i":1.6,"g":"neg"},{"x":16,"t":126.3,"i":3.53,"g":"neg"},{"x":16,"t":115.1,"i":2.9,"g":"neg"},{"x":16,"t":102.3,"i":2.9,"g":"neg"},
{"x":17,"t":286.5,"i":3.53,"g":"pos"},{"x":17,"t":246.4,"i":1.0,"g":"pos"},{"x":17,"t":198,"i":0.4,"g":"pos"},{"x":17,"t":178.6,"i":1.0,"g":"pos"},{"x":17,"t":143,"i":0.4,"g":"pos"},{"x":17,"t":117.5,"i":7.56,"g":"pos"},{"x":17,"t":104.5,"i":3.53,"g":"pos"},
{"x":17,"t":296.9,"i":1.39,"g":"neg"},{"x":17,"t":293.9,"i":1.39,"g":"neg"},{"x":17,"t":283,"i":1.6,"g":"neg"},{"x":17,"t":275,"i":1.39,"g":"neg"},{"x":17,"t":272,"i":1.39,"g":"neg"},{"x":17,"t":261,"i":1.83,"g":"neg"},{"x":17,"t":257.3,"i":1.83,"g":"neg"},{"x":17,"t":251,"i":1.39,"g":"neg"},{"x":17,"t":239,"i":1.6,"g":"neg"},{"x":17,"t":236,"i":1.6,"g":"neg"},{"x":17,"t":225.3,"i":1.6,"g":"neg"},{"x":17,"t":221.6,"i":1.6,"g":"neg"},{"x":17,"t":211.8,"i":1.39,"g":"neg"},{"x":17,"t":208.8,"i":1.39,"g":"neg"},{"x":17,"t":200,"i":0.67,"g":"neg"},{"x":17,"t":187.8,"i":1.6,"g":"neg"},{"x":17,"t":174.2,"i":2.34,"g":"neg"},{"x":17,"t":164.1,"i":1.6,"g":"neg"},{"x":17,"t":152.1,"i":1.6,"g":"neg"},{"x":17,"t":139.6,"i":1.6,"g":"neg"},{"x":17,"t":128.6,"i":1.6,"g":"neg"},{"x":17,"t":125.8,"i":3.21,"g":"neg"},{"x":17,"t":102,"i":2.34,"g":"neg"},
{"x":18,"t":285.7,"i":1.39,"g":"pos"},{"x":18,"t":274,"i":0.4,"g":"pos"},{"x":18,"t":261.4,"i":1.6,"g":"pos"},{"x":18,"t":246.4,"i":2.34,"g":"pos"},{"x":18,"t":237.7,"i":1.6,"g":"pos"},{"x":18,"t":211.4,"i":2.9,"g":"pos"},{"x":18,"t":197.9,"i":1.6,"g":"pos"},{"x":18,"t":178.6,"i":1.0,"g":"pos"},{"x":18,"t":150,"i":0.4,"g":"pos"},{"x":18,"t":126,"i":0.4,"g":"pos"},{"x":18,"t":119.3,"i":1.6,"g":"pos"},{"x":18,"t":112.6,"i":6.63,"g":"pos"},{"x":18,"t":104.5,"i":4.58,"g":"pos"},
{"x":18,"t":298,"i":0.67,"g":"neg"},{"x":18,"t":295,"i":0.67,"g":"neg"},{"x":18,"t":281.2,"i":1.0,"g":"neg"},{"x":18,"t":276,"i":0.67,"g":"neg"},{"x":18,"t":271,"i":0.67,"g":"neg"},{"x":18,"t":258,"i":0.67,"g":"neg"},{"x":18,"t":251,"i":1.0,"g":"neg"},{"x":18,"t":235,"i":0.67,"g":"neg"},{"x":18,"t":226.3,"i":0.67,"g":"neg"},{"x":18,"t":221.9,"i":0.67,"g":"neg"},{"x":18,"t":200,"i":0.4,"g":"neg"},{"x":18,"t":188.4,"i":1.0,"g":"neg"},{"x":18,"t":174.2,"i":1.0,"g":"neg"},{"x":18,"t":164.1,"i":1.0,"g":"neg"},{"x":18,"t":153,"i":0.67,"g":"neg"},{"x":18,"t":140.4,"i":1.0,"g":"neg"},{"x":18,"t":128.1,"i":0.67,"g":"neg"},{"x":18,"t":115,"i":0.4,"g":"neg"},
{"x":19,"t":298,"i":0.67,"g":"pos"},{"x":19,"t":281,"i":0.4,"g":"pos"},{"x":19,"t":276,"i":0.4,"g":"pos"},{"x":19,"t":250.1,"i":17.1,"g":"pos"},{"x":19,"t":234.5,"i":1.6,"g":"pos"},{"x":19,"t":211.4,"i":1.0,"g":"pos"},{"x":19,"t":198.5,"i":2.62,"g":"pos"},{"x":19,"t":188.4,"i":0.67,"g":"pos"},{"x":19,"t":177.6,"i":1.0,"g":"pos"},{"x":19,"t":153.5,"i":1.0,"g":"pos"},{"x":19,"t":141.9,"i":2.62,"g":"pos"},{"x":19,"t":105.2,"i":2.9,"g":"pos"},
{"x":19,"t":295,"i":0.67,"g":"neg"},{"x":19,"t":285,"i":0.4,"g":"neg"},{"x":19,"t":272,"i":0.67,"g":"neg"},{"x":19,"t":264,"i":0.4,"g":"neg"},{"x":19,"t":258,"i":0.4,"g":"neg"},{"x":19,"t":246,"i":0.67,"g":"neg"},{"x":19,"t":237,"i":0.67,"g":"neg"},{"x":19,"t":225.3,"i":0.67,"g":"neg"},{"x":19,"t":220.5,"i":0.67,"g":"neg"},{"x":19,"t":213,"i":0.4,"g":"neg"},{"x":19,"t":209,"i":0.4,"g":"neg"},{"x":19,"t":174,"i":0.4,"g":"neg"},{"x":19,"t":164.1,"i":0.67,"g":"neg"},{"x":19,"t":161,"i":0.67,"g":"neg"},{"x":19,"t":149,"i":0.4,"g":"neg"},{"x":19,"t":139,"i":0.4,"g":"neg"},{"x":19,"t":128,"i":0.53,"g":"neg"},{"x":19,"t":125,"i":0.53,"g":"neg"},{"x":19,"t":117,"i":0.4,"g":"neg"},{"x":19,"t":113,"i":0.4,"g":"neg"},{"x":19,"t":102,"i":0.4,"g":"neg"}
]},
"mark": {"type": "point", "filled": true, "opacity": 0.5, "strokeWidth": 0},
"encoding": {
  "x": {"field": "x", "type": "quantitative",
    "scale": {"domain": [0.1, 19.9], "nice": false, "zero": false},
    "axis": {"title": "Length bin (cm)", "values": [2.5, 5, 7.5, 10, 12.5, 15, 17.5],
      "labelExpr": "datum.value % 5 === 0 ? datum.label : ''",
      "domain": false, "gridColor": "#FFFFFF",
      "gridWidth": {"condition": {"test": "datum.value % 5 === 0", "value": 2.2}, "value": 1.1},
      "tickOpacity": {"condition": {"test": "datum.value % 5 === 0", "value": 1}, "value": 0},
      "tickColor": "#333333", "tickWidth": 2, "tickSize": 8,
      "labelFontSize": 24, "labelColor": "#4D4D4D", "labelPadding": 4, "labelFont": "Liberation Sans",
      "titleFontSize": 30, "titleFontWeight": "normal", "titleColor": "#000000", "titlePadding": 6, "titleFont": "Liberation Sans"}},
  "y": {"field": "t", "type": "quantitative",
    "scale": {"domain": [91.8, 308], "nice": false, "zero": false},
    "axis": {"title": "Time step", "values": [100, 125, 150, 175, 200, 225, 250, 275, 300],
      "labelExpr": "datum.value % 50 === 0 ? datum.label : ''",
      "domain": false, "gridColor": "#FFFFFF",
      "gridWidth": {"condition": {"test": "datum.value % 50 === 0", "value": 2.2}, "value": 1.1},
      "tickOpacity": {"condition": {"test": "datum.value % 50 === 0", "value": 1}, "value": 0},
      "tickColor": "#333333", "tickWidth": 2, "tickSize": 8,
      "labelFontSize": 24, "labelColor": "#4D4D4D", "labelPadding": 6, "labelFont": "Liberation Sans",
      "titleFontSize": 30, "titleFontWeight": "normal", "titleColor": "#000000", "titlePadding": 10, "titleFont": "Liberation Sans"}},
  "size": {"field": "i", "type": "quantitative",
    "scale": {"domain": [0, 25], "range": [12, 3364], "zero": false},
    "legend": {"title": "index", "values": [5, 10, 15, 20, 25], "orient": "none", "legendX": -93, "legendY": 618,
      "direction": "horizontal", "titleOrient": "left", "titleFontSize": 30, "titleFontWeight": "normal", "titleColor": "#000000",
      "titlePadding": 19, "labelFontSize": 24, "labelColor": "#000000", "labelOffset": 22, "columnPadding": 24,
      "symbolFillColor": "#000000", "symbolStrokeColor": "#000000", "symbolStrokeWidth": 1.5, "symbolOpacity": 0.55, "symbolType": "circle",
      "titleFont": "Liberation Sans", "labelFont": "Liberation Sans"}},
  "color": {"field": "g", "type": "nominal",
    "scale": {"domain": ["neg", "pos"], "range": ["#F8766D", "#00BFC4"]},
    "legend": {"title": "negpos", "orient": "none", "legendX": 607, "legendY": 626,
      "direction": "horizontal", "titleOrient": "left", "titleFontSize": 30, "titleFontWeight": "normal", "titleColor": "#000000",
      "titlePadding": 24, "labelFontSize": 24, "labelColor": "#000000", "labelOffset": 27, "columnPadding": 37,
      "symbolSize": 50, "symbolOpacity": 0.5, "symbolType": "circle", "symbolStrokeWidth": 0,
      "titleFont": "Liberation Sans", "labelFont": "Liberation Sans"}}
}
}
